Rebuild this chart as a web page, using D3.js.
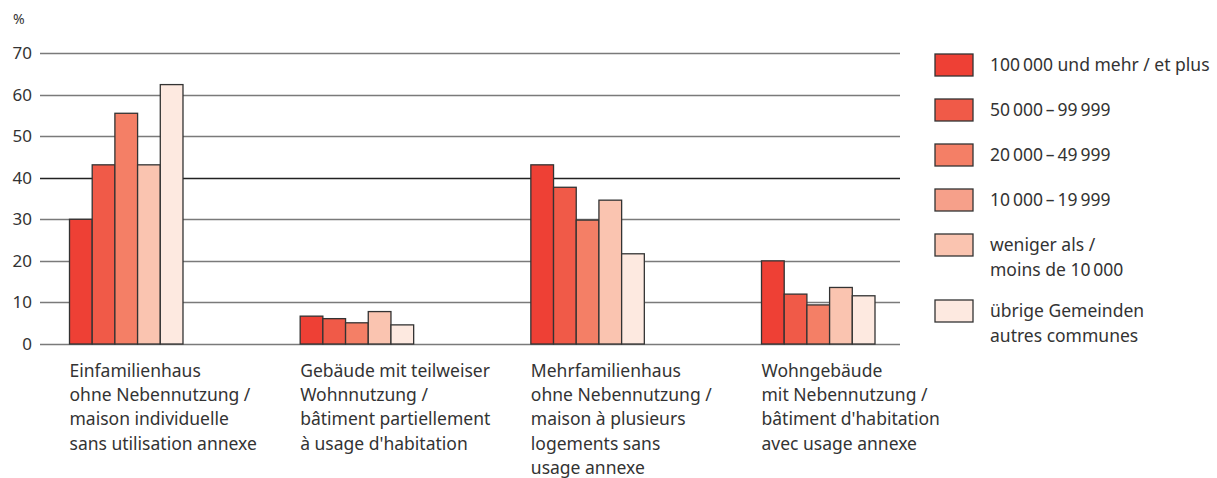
<!DOCTYPE html>
<html>
<head>
<meta charset="utf-8">
<script src="https://cdn.jsdelivr.net/npm/d3@7"></script>
<style>
  body { margin: 0; background: #fff; }
  text { font-family: "Noto Sans", sans-serif; fill: #333; }
</style>
</head>
<body>
<div id="chart-area"></div>
<script>
// categories (x axis), one label line per array entry
var categories = [
	["Einfamilienhaus", "ohne Nebennutzung /", "maison individuelle", "sans utilisation annexe"],
	["Gebäude mit teilweiser", "Wohnnutzung /", "bâtiment partiellement", "à usage d'habitation"],
	["Mehrfamilienhaus", "ohne Nebennutzung /", "maison à plusieurs", "logements sans", "usage annexe"],
	["Wohngebäude", "mit Nebennutzung /", "bâtiment d'habitation", "avec usage annexe"]
];

// legend / series labels (thin spaces as thousands separator)
var seriesNames = [
	["100\u2009000 und mehr / et plus"],
	["50\u2009000\u2009–\u200999\u2009999"],
	["20\u2009000\u2009–\u200949\u2009999"],
	["10\u2009000\u2009–\u200919\u2009999"],
	["weniger als /", "moins de 10\u2009000"],
	["übrige Gemeinden", "autres communes"]
];
var seriesColors = ["#ee4035", "#f05a48", "#f47f66", "#f6a08a", "#fac4b0", "#fde9e0"];

// values per series (%), one per category; null = no bar drawn
var s100k    = [30, 6.7, 43.1, 20];
var s50k     = [43.1, 6.1, 37.7, 12];
var s20k     = [55.5, 5.1, 29.8, 9.4];
var s10k     = [null, null, null, null];
var sLess10k = [43.1, 7.8, 34.6, 13.6];
var sOther   = [62.4, 4.6, 21.7, 11.6];
var seriesValues = [s100k, s50k, s20k, s10k, sLess10k, sOther];

var yTicks = [0, 10, 20, 30, 40, 50, 60, 70];

var width = 1217, height = 478;

var svg = d3.select("#chart-area")
		.append("svg")
			.attr("width", width)
			.attr("height", height);

//Scales
var yScale = d3.scaleLinear()
		.domain([0, 70])
		.range([344, 53]);

var xScale = d3.scaleBand()
		.domain(d3.range(categories.length))
		.range([69.5, 875])
		.paddingInner(0.508)
		.paddingOuter(0);

// only series with data get a slot inside the group
var drawnSeries = d3.range(seriesValues.length).filter(function(i){
	return seriesValues[i].some(function(v){ return v != null; });
});

var xInner = d3.scaleBand()
		.domain(drawnSeries)
		.range([0, xScale.bandwidth()]);

//grid lines
svg.append("g")
	.selectAll("line")
	.data(yTicks)
	.enter()
	.append("line")
		.attr("x1", 40)
		.attr("x2", 900)
		.attr("y1", function(d){ return Math.round(yScale(d)) + 0.5; })
		.attr("y2", function(d){ return Math.round(yScale(d)) + 0.5; })
		.attr("stroke", function(d){ return d == 40 ? "#222" : "#7a7a7a"; })
		.attr("stroke-width", function(d){ return d == 0 ? 1.6 : 1.3; });

//y tick labels
svg.append("g")
	.selectAll("text")
	.data(yTicks)
	.enter()
	.append("text")
		.attr("x", 32)
		.attr("y", function(d){ return yScale(d); })
		.attr("dy", "0.35em")
		.attr("text-anchor", "end")
		.attr("font-size", "17px")
		.text(function(d){ return d; });

svg.append("text")
	.attr("x", 13)
	.attr("y", 24)
	.attr("font-size", "14px")
	.text("%");

//bars
var groups = svg.append("g")
	.selectAll("g")
	.data(categories)
	.enter()
	.append("g")
		.attr("transform", function(d, i){ return "translate(" + xScale(i) + ",0)"; });

groups.selectAll("rect")
	.data(function(d, ci){
		return drawnSeries.map(function(si){
			return {series: si, value: seriesValues[si][ci]};
		}).filter(function(b){ return b.value != null; });
	})
	.enter()
	.append("rect")
		.attr("x", function(d){ return xInner(d.series); })
		.attr("width", xInner.bandwidth())
		.attr("y", function(d){ return yScale(d.value); })
		.attr("height", function(d){ return yScale(0) - yScale(d.value); })
		.attr("fill", function(d){ return seriesColors[d.series]; })
		.attr("stroke", "#333")
		.attr("stroke-width", 1.3);

//category labels
groups.append("text")
	.attr("x", 0)
	.attr("y", 377)
	.attr("font-size", "17.5px")
	.selectAll("tspan")
	.data(function(d){ return d; })
	.enter()
	.append("tspan")
		.attr("x", 0)
		.attr("dy", function(d, i){ return i == 0 ? 0 : 24.2; })
		.text(function(d){ return d; });

//legend
var legend = svg.append("g")
		.attr("transform", "translate(935, 54)");

var rowY = 0;
seriesNames.forEach(function(name, i){
	var row = legend.append("g")
			.attr("transform", "translate(0," + rowY + ")");

	row.append("rect")
		.attr("width", 38)
		.attr("height", 22)
		.attr("fill", seriesColors[i])
		.attr("stroke", "#333")
		.attr("stroke-width", 1.3);

	row.append("text")
		.attr("x", 55)
		.attr("y", 11)
		.attr("font-size", "17.5px")
		.selectAll("tspan")
		.data(name)
		.enter()
		.append("tspan")
			.attr("x", 55)
			.attr("dy", function(d, j){ return j == 0 ? "0.35em" : 25; })
			.text(function(d){ return d; });

	rowY += 45 + (name.length - 1) * 21;
}); //forEach
</script>
</body>
</html>
